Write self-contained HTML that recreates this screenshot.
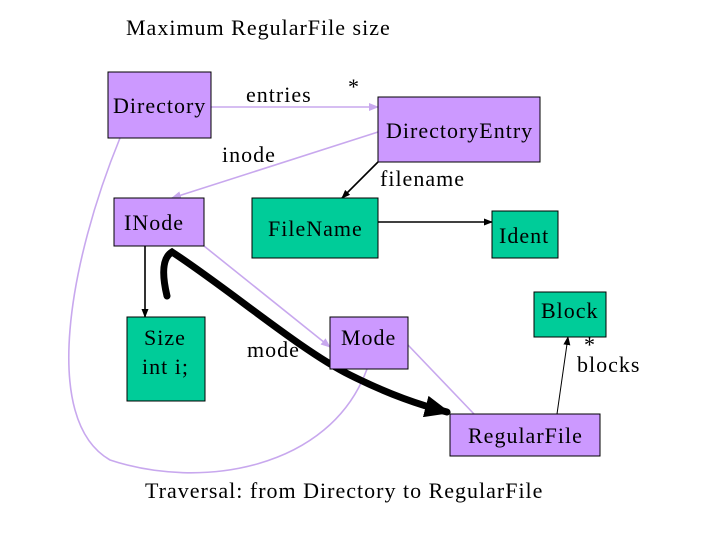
<!DOCTYPE html>
<html><head><style>
body{margin:0;background:#fff;}
svg text{font-family:"Liberation Serif",serif;fill:#000;}
</style></head><body>
<svg width="720" height="540" viewBox="0 0 720 540" xmlns="http://www.w3.org/2000/svg">
<defs>
<marker id="ap" markerWidth="10" markerHeight="8" refX="9" refY="4" orient="auto" markerUnits="userSpaceOnUse"><path d="M0,0 L10,4 L0,8 z" fill="#c8a8ee"/></marker>
<marker id="ab" markerWidth="9" markerHeight="7" refX="8" refY="3.5" orient="auto" markerUnits="userSpaceOnUse"><path d="M0,0 L9,3.5 L0,7 z" fill="#000"/></marker>
<marker id="abig" markerWidth="26" markerHeight="22" refX="22" refY="11" orient="auto" markerUnits="userSpaceOnUse"><path d="M0,0 L26,11 L0,22 z" fill="#000"/></marker>
</defs>
<text x="126" y="35" font-size="22" letter-spacing="1">Maximum RegularFile size</text>
<g stroke="#c8a8ee" stroke-width="1.6" fill="none">
<line x1="211" y1="107" x2="378" y2="107" marker-end="url(#ap)"/>
<line x1="378" y1="132" x2="172" y2="198" marker-end="url(#ap)"/>
<line x1="204" y1="246" x2="330" y2="347" marker-end="url(#ap)"/>
<line x1="408" y1="345" x2="474" y2="414"/>
<path d="M120,138 C70,260 40,420 110,460 C200,490 330,470 367,369"/>
</g>
<g stroke="#000" stroke-width="1.6" fill="none">
<line x1="378" y1="162" x2="342" y2="198" marker-end="url(#ab)"/>
<line x1="378" y1="222" x2="492" y2="222" marker-end="url(#ab)"/>
<line x1="145" y1="246" x2="145" y2="317" marker-end="url(#ab)"/>
<line x1="557" y1="414" x2="568" y2="337" stroke-width="1" marker-end="url(#ab)"/>
</g>
<path d="M167,296 C162,275 162,258 172,252 C230,290 300,350 350,375 C390,395 420,405 447,412" stroke="#000" stroke-width="7" fill="none" stroke-linecap="round" marker-end="url(#abig)"/>
<g stroke="#000" stroke-width="1">
<rect x="108" y="72" width="103" height="66" fill="#cc99ff"/>
<rect x="378" y="97" width="162" height="65" fill="#cc99ff"/>
<rect x="114" y="198" width="90" height="48" fill="#cc99ff"/>
<rect x="252" y="198" width="126" height="60" fill="#00cc99"/>
<rect x="492" y="211" width="66" height="47" fill="#00cc99"/>
<rect x="127" y="317" width="78" height="84" fill="#00cc99"/>
<rect x="330" y="317" width="78" height="52" fill="#cc99ff"/>
<rect x="534" y="292" width="72" height="45" fill="#00cc99"/>
<rect x="450" y="414" width="150" height="42" fill="#cc99ff"/>
</g>
<g font-size="22" letter-spacing="1">
<text x="113" y="113">Directory</text>
<text x="386" y="138">DirectoryEntry</text>
<text x="124" y="230">INode</text>
<text x="268" y="236">FileName</text>
<text x="499" y="243">Ident</text>
<text x="144" y="345">Size</text>
<text x="142" y="374">int i;</text>
<text x="341" y="345">Mode</text>
<text x="541" y="318">Block</text>
<text x="468" y="443">RegularFile</text>
<text x="246" y="102">entries</text>
<text x="348" y="94">*</text>
<text x="222" y="162">inode</text>
<text x="380" y="186">filename</text>
<text x="247" y="357">mode</text>
<text x="584" y="352">*</text>
<text x="577" y="372">blocks</text>
<text x="145" y="498">Traversal: from Directory to RegularFile</text>
</g>
</svg>
</body></html>
